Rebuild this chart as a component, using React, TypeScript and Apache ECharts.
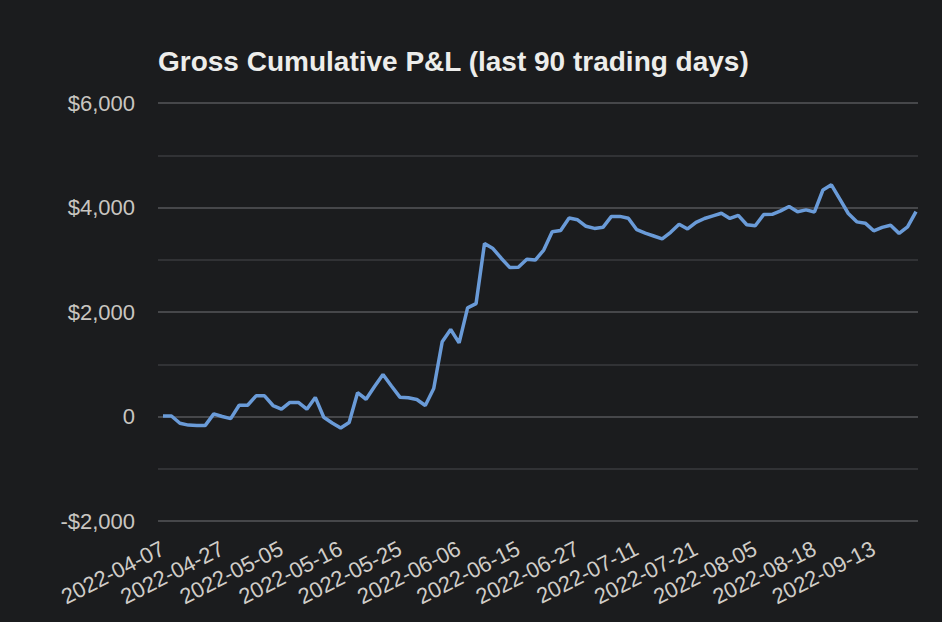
import React, { useEffect, useRef } from "react";
import * as echarts from "echarts";

const TITLE = "Gross Cumulative P&L (last 90 trading days)";

const dates: string[] = [
  "2022-04-07", "2022-04-08", "2022-04-11", "2022-04-13", "2022-04-18", "2022-04-20", "2022-04-25",
  "2022-04-27", "2022-04-28", "2022-04-29", "2022-04-30", "2022-05-02", "2022-05-03", "2022-05-04",
  "2022-05-05", "2022-05-06", "2022-05-09", "2022-05-10", "2022-05-11", "2022-05-12", "2022-05-13",
  "2022-05-16", "2022-05-17", "2022-05-18", "2022-05-19", "2022-05-20", "2022-05-23", "2022-05-24",
  "2022-05-25", "2022-05-26", "2022-05-27", "2022-05-31", "2022-06-01", "2022-06-02", "2022-06-03",
  "2022-06-06", "2022-06-07", "2022-06-08", "2022-06-09", "2022-06-10", "2022-06-13", "2022-06-14",
  "2022-06-15", "2022-06-16", "2022-06-17", "2022-06-21", "2022-06-22", "2022-06-23", "2022-06-24",
  "2022-06-27", "2022-06-28", "2022-06-29", "2022-06-30", "2022-07-01", "2022-07-06", "2022-07-08",
  "2022-07-11", "2022-07-12", "2022-07-13", "2022-07-14", "2022-07-15", "2022-07-18", "2022-07-20",
  "2022-07-21", "2022-07-22", "2022-07-26", "2022-07-27", "2022-07-29", "2022-08-01", "2022-08-03",
  "2022-08-05", "2022-08-08", "2022-08-09", "2022-08-10", "2022-08-11", "2022-08-12", "2022-08-16",
  "2022-08-18", "2022-08-19", "2022-08-22", "2022-08-25", "2022-08-30", "2022-09-02", "2022-09-08",
  "2022-09-13", "2022-09-14", "2022-09-15", "2022-09-16", "2022-09-19", "2022-09-20",
];

const pnl: number[] = [
  10, 10, -130, -165, -170, -170, 50, 0, -40, 215,
  215, 395, 395, 210, 140, 270, 270, 140, 365, -15,
  -125, -220, -115, 455, 330, 575, 805, 585, 370, 360,
  325, 210, 535, 1430, 1665, 1410, 2080, 2160, 3310, 3215,
  3025, 2850, 2855, 3010, 2995, 3185, 3535, 3560, 3800, 3765,
  3640, 3600, 3620, 3830, 3830, 3795, 3575, 3510, 3455, 3400,
  3525, 3680, 3590, 3715, 3790, 3840, 3890, 3790, 3850, 3670,
  3650, 3865, 3870, 3935, 4020, 3920, 3955, 3915, 4335, 4435,
  4160, 3885, 3725, 3700, 3555, 3620, 3660, 3505, 3630, 3920,
];

const Y_MIN = -2000;
const Y_MAX = 6000;
const Y_STEP = 1000;
const LABEL_STEP = 2000;

const BG = "#1b1c1e";
const FONT = "'Liberation Sans', Arial, Helvetica, sans-serif";

function fmtMoney(v: number): string {
  if (v === 0) return "0";
  const s = Math.abs(v).toLocaleString("en-US");
  return (v < 0 ? "-$" : "$") + s;
}

export default function App() {
  const ref = useRef<HTMLDivElement>(null);

  useEffect(() => {
    document.body.style.margin = "0";
    document.body.style.background = BG;
    if (!ref.current) return;
    const chart = echarts.init(ref.current, undefined, { renderer: "svg" });
    chart.setOption({
      animation: false,
      backgroundColor: BG,
      title: {
        text: TITLE,
        left: 153,
        top: 42,
        textStyle: {
          color: "#ededeb",
          fontSize: 28,
          fontWeight: "bold",
          fontFamily: FONT,
        },
      },
      grid: [
        { left: 158, right: 24, top: 103, bottom: 101 },
        { left: 163, right: 26, top: 103, bottom: 101 },
      ],
      xAxis: [
        {
          type: "category",
          gridIndex: 0,
          data: dates,
          show: false,
        },
        {
          type: "category",
          gridIndex: 1,
          data: dates,
          boundaryGap: false,
          axisLine: { show: false },
          axisTick: { show: false },
          splitLine: { show: false },
          axisLabel: {
            interval: 6,
            rotate: 27,
            margin: 26,
            color: "#d0cdc8",
            fontSize: 22,
            fontFamily: FONT,
          },
        },
      ],
      yAxis: [
        {
          type: "value",
          gridIndex: 0,
          min: Y_MIN,
          max: Y_MAX,
          interval: Y_STEP,
          axisLine: { show: false },
          axisTick: { show: false },
          axisLabel: {
            margin: 23,
            color: "#c9c6c1",
            fontSize: 22,
            fontFamily: FONT,
            formatter: (v: number) => (v % LABEL_STEP === 0 ? fmtMoney(v) : ""),
          },
          splitLine: {
            show: true,
            lineStyle: { color: ["#46474a", "#313235"], width: 2 },
          },
        },
        {
          type: "value",
          gridIndex: 1,
          min: Y_MIN,
          max: Y_MAX,
          interval: Y_STEP,
          show: false,
          splitLine: { show: false },
        },
      ],
      series: [
        {
          type: "line",
          xAxisIndex: 1,
          yAxisIndex: 1,
          data: pnl,
          showSymbol: false,
          symbol: "none",
          lineStyle: { color: "#6a9bd8", width: 3.5 },
          itemStyle: { color: "#6a9bd8" },
        },
      ],
    });
    return () => chart.dispose();
  }, []);

  return (
    <div
      ref={ref}
      style={{ position: "fixed", left: 0, top: 0, width: 942, height: 622 }}
    />
  );
}
